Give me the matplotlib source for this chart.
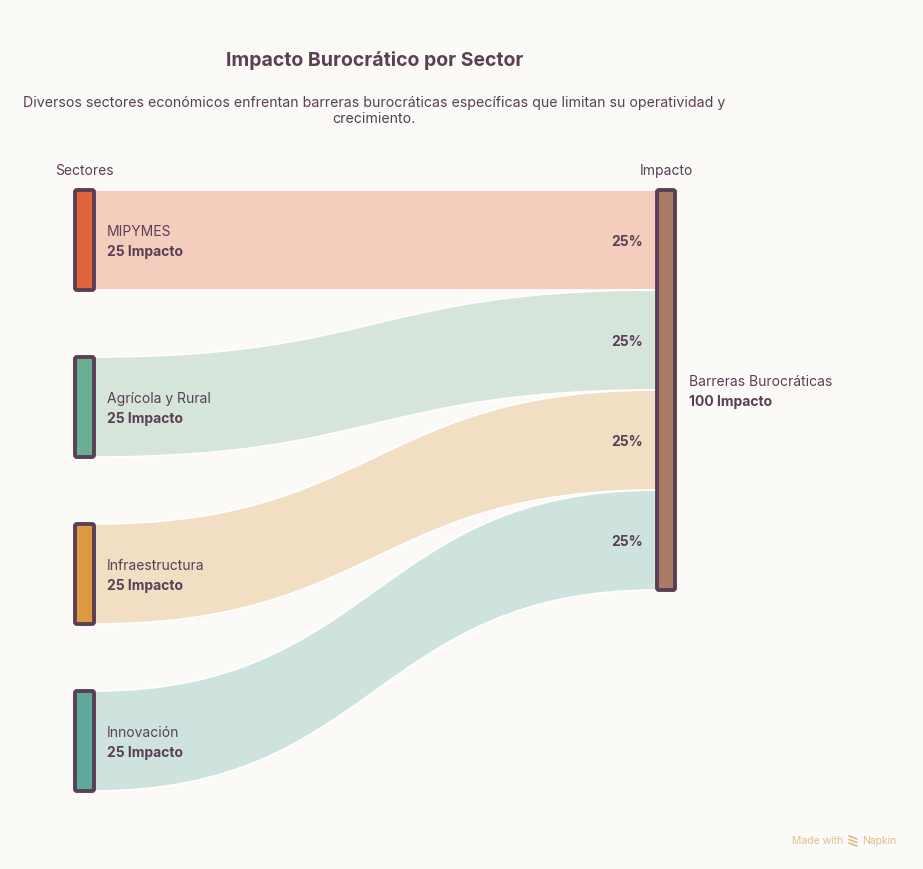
import matplotlib
matplotlib.use("Agg")
from matplotlib import pyplot as plt
from matplotlib.path import Path
from matplotlib.patches import PathPatch, FancyBboxPatch

# data
sectors = ["MIPYMES", "Agrícola y Rural", "Infraestructura", "Innovación"]
impact = [25, 25, 25, 25]
target = "Barreras Burocráticas"
node_colors = ["#E0643A", "#6BAF92", "#DD9A40", "#5FA99C"]
link_colors = ["#F4CDBD", "#D5E5DA", "#F2DEC2", "#CFE3DE"]
target_color = "#A97B65"

TEXT = "#5A3F55"
BG = "#FCFAF6"
FONT = ["Inter", "DejaVu Sans"]
plt.rcParams["font.family"] = FONT

fig = plt.figure(figsize=(9.23, 8.69), dpi=100)
fig.set_facecolor(BG)
ax = fig.add_axes([0, 0, 1, 1])
ax.set_xlim(0, 923)
ax.set_ylim(869, 0)
ax.axis("off")

# layout in pixel units
total = sum(impact)
left_x0, left_x1 = 75, 94
right_x0, right_x1 = 657, 675
top = 190
scale = 400 / total          # px per unit on the right node
gap = 67                     # gap between left nodes
fs = 10

right_y = top
left_y = top
for i, (name, val) in enumerate(zip(sectors, impact)):
    h = val * scale
    ly0, ly1 = left_y, left_y + h
    ry0, ry1 = right_y, right_y + h
    mx = (left_x1 + right_x0) / 2
    verts = [
        (left_x1, ly0), (mx, ly0), (mx, ry0), (right_x0, ry0),
        (right_x0, ry1),
        (mx, ry1), (mx, ly1), (left_x1, ly1),
        (left_x1, ly0),
    ]
    codes = [Path.MOVETO, Path.CURVE4, Path.CURVE4, Path.CURVE4,
             Path.LINETO,
             Path.CURVE4, Path.CURVE4, Path.CURVE4,
             Path.CLOSEPOLY]
    ax.add_patch(PathPatch(Path(verts, codes), facecolor=link_colors[i],
                           edgecolor="white", lw=1.2, zorder=1))

    ax.add_patch(FancyBboxPatch((left_x0, ly0), left_x1 - left_x0, h,
                                boxstyle="round,pad=0,rounding_size=2",
                                facecolor=node_colors[i], edgecolor=TEXT,
                                lw=2.8, zorder=3))
    ax.text(107, (ly0 + ly1) / 2 - 8, name, fontsize=fs, color=TEXT,
            va="center", ha="left", zorder=4)
    ax.text(107, (ly0 + ly1) / 2 + 12, f"{val} Impacto", fontsize=fs,
            color=TEXT, fontweight="bold", va="center", ha="left", zorder=4)
    ax.text(643, (ry0 + ry1) / 2 + 2, f"{val / total * 100:.0f}%", fontsize=fs,
            color=TEXT, fontweight="bold", va="center", ha="right", zorder=4)

    left_y = ly1 + gap
    right_y = ry1

ax.add_patch(FancyBboxPatch((right_x0, top), right_x1 - right_x0, total * scale,
                            boxstyle="round,pad=0,rounding_size=2",
                            facecolor=target_color, edgecolor=TEXT, lw=2.8,
                            zorder=3))
mid = top + total * scale / 2
ax.text(689, mid - 8, target, fontsize=fs, color=TEXT, va="center", ha="left")
ax.text(689, mid + 12, f"{total} Impacto", fontsize=fs, color=TEXT,
        fontweight="bold", va="center", ha="left")

# headers
ax.text(84, 171, "Sectores", fontsize=fs, color=TEXT, ha="center", va="center")
ax.text(666, 171, "Impacto", fontsize=fs, color=TEXT, ha="center", va="center")

# title and subtitle
ax.text(375, 61, "Impacto Burocrático por Sector", fontsize=14,
        fontweight="bold", color=TEXT, ha="center", va="center")
ax.text(374, 111, "Diversos sectores económicos enfrentan barreras burocráticas "
        "específicas que limitan su operatividad y\ncrecimiento.",
        fontsize=10.2, color=TEXT, ha="center", va="center", linespacing=1.1)

# watermark
WM = "#D9C08E"
ax.text(843, 841, "Made with", fontsize=7.5, color=WM, ha="right", va="center")
ax.text(862, 841, "Napkin", fontsize=7.5, color=WM, ha="left", va="center")
for k in range(3):
    ax.plot([849, 857], [836 + k * 3.5, 839 + k * 3.5], color=WM, lw=1.3,
            solid_capstyle="round")

fig.savefig("out.png", dpi=100, facecolor=BG)
